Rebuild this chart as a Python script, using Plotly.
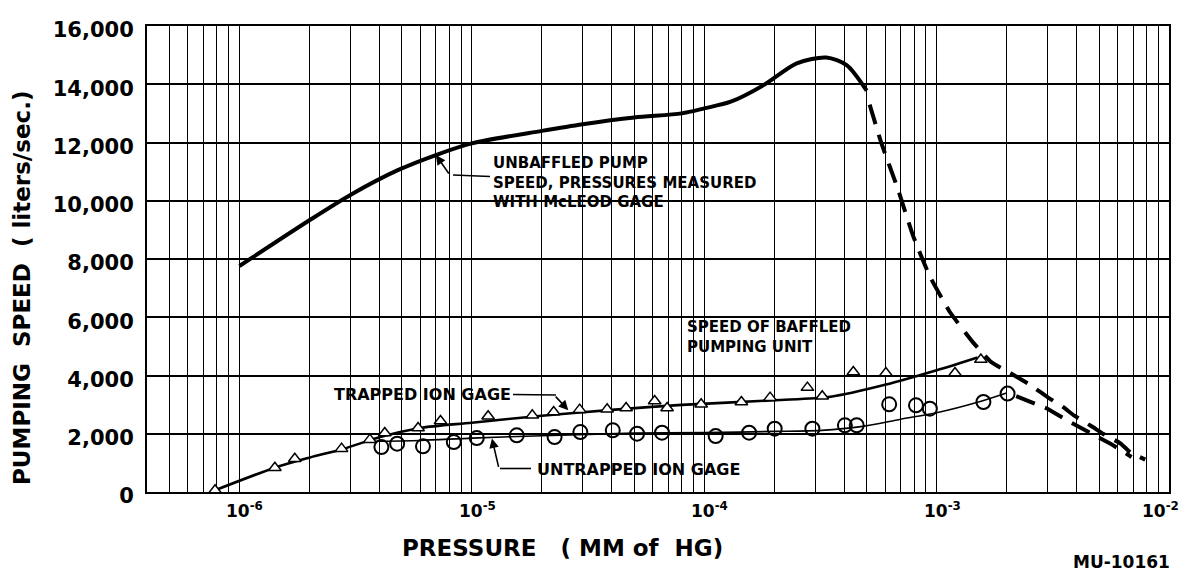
import math
import plotly.graph_objects as go

# ---------------- data ----------------
# Unbaffled pump speed, McLeod gage (solid part)
unbaffled_p = [1.0e-6, 2.0e-6, 3.0e-6, 4.8e-6, 7.0e-6, 1.0e-5, 2.0e-5, 3.0e-5, 5.0e-5,
               8.0e-5, 1.0e-4, 1.3e-4, 1.8e-4, 2.5e-4, 3.35e-4, 4.1e-4, 5.0e-4]
unbaffled_s = [7760, 9330, 10200, 11050, 11570, 11970, 12400, 12630, 12860,
               13000, 13170, 13400, 13970, 14720, 14920, 14660, 13780]

# Unbaffled pump speed, extrapolated (dashed, upper branch)
unbaffled_dash_p = [5.15e-4, 5.8e-4, 6.8e-4, 7.9e-4, 9.3e-4, 1.14e-3, 1.44e-3, 1.72e-3, 2.1e-3,
                    2.5e-3, 3.0e-3, 3.5e-3, 3.9e-3, 4.7e-3, 5.2e-3, 6.2e-3, 6.8e-3, 7.9e-3]
unbaffled_dash_s = [13300, 11950, 10420, 8820, 7440, 6180, 5120, 4460, 4060,
                    3700, 3260, 2920, 2630, 2230, 2000, 1660, 1370, 1110]

# Baffled unit, extrapolated (dashed, lower branch)
lower_dash_p = [2.2e-3, 2.7e-3, 3.0e-3, 3.75e-3, 4.1e-3, 5.2e-3, 5.6e-3, 6.9e-3]
lower_dash_s = [3290, 3010, 2860, 2400, 2230, 1775, 1660, 1200]

# Trapped ion gage: measured points and faired curve
trapped_p = [7.85e-7, 1.42e-6, 1.73e-6, 2.75e-6, 3.64e-6, 4.22e-6, 5.87e-6, 7.33e-6, 1.175e-5,
             1.82e-5, 2.25e-5, 2.91e-5, 3.82e-5, 4.61e-5, 6.12e-5, 6.92e-5, 9.7e-5, 1.445e-4,
             1.92e-4, 2.78e-4, 3.22e-4, 4.38e-4, 6.05e-4, 1.2e-3, 1.55e-3]
trapped_s = [60, 835, 1144, 1488, 1797, 2024, 2196, 2436, 2598,
             2632, 2746, 2828, 2838, 2883, 3124, 2883, 3010, 3089,
             3240, 3584, 3285, 4120, 4086, 4086, 4546]
trapped_curve_p = [7.85e-7, 1.42e-6, 2.0e-6, 2.8e-6, 4.0e-6, 6.0e-6, 1.0e-5, 2.0e-5, 4.0e-5,
                   8.0e-5, 2.0e-4, 3.5e-4, 6.0e-4, 1.0e-3, 1.5e-3]
trapped_curve_s = [60, 835, 1180, 1480, 1880, 2200, 2380, 2620, 2820,
                   2990, 3150, 3270, 3680, 4180, 4620]

# Untrapped ion gage: measured points and faired curve
untrapped_p = [4.08e-6, 4.77e-6, 6.16e-6, 8.36e-6, 1.05e-5, 1.56e-5, 2.27e-5, 2.93e-5, 4.04e-5,
               5.14e-5, 6.58e-5, 1.12e-4, 1.56e-4, 2.01e-4, 2.92e-4, 4.03e-4, 4.53e-4, 6.25e-4,
               8.15e-4, 9.35e-4, 1.59e-3, 2.02e-3]
untrapped_s = [1543, 1660, 1567, 1715, 1852, 1945, 1887, 2058, 2117,
               2003, 2038, 1921, 2038, 2175, 2175, 2289, 2289, 3010,
               2976, 2862, 3089, 3378]
untrapped_curve_p = [3.6e-6, 6e-6, 1e-5, 2e-5, 5e-5, 1e-4, 2e-4, 3.2e-4, 4.8e-4, 7e-4, 1e-3, 1.5e-3, 2.0e-3]
untrapped_curve_s = [1740, 1770, 1850, 1930, 2020, 2040, 2080, 2117, 2254, 2500, 2720, 3080, 3400]

# axis ticks
x_decades = [-7, -6, -5, -4, -3, -2]
x_labelled = [-6, -5, -4, -3, -2]
y_ticks = [0, 2000, 4000, 6000, 8000, 10000, 12000, 14000, 16000]
y_ticktext = ["0", "2,000", "4,000", "6,000", "8,000", "10,000", "12,000", "14,000", "16,000"]

# ---------------- figure ----------------
FONT = "DejaVu Sans"
INK = "black"

x_major, x_minor = [], []
for d in x_decades:
    for m in range(1, 10):
        v = m * 10.0 ** d
        if 3.9e-7 <= v <= 1.01e-2:
            (x_major if m == 1 else x_minor).append(v)

fig = go.Figure()

fig.add_trace(go.Scatter(x=unbaffled_p, y=unbaffled_s, mode="lines",
                         line=dict(color=INK, width=4, shape="spline", smoothing=0.8),
                         hoverinfo="skip", showlegend=False))
fig.add_trace(go.Scatter(x=unbaffled_dash_p, y=unbaffled_dash_s, mode="lines",
                         line=dict(color=INK, width=4, shape="spline", smoothing=0.4, dash="20px,11px"),
                         hoverinfo="skip", showlegend=False))
fig.add_trace(go.Scatter(x=lower_dash_p, y=lower_dash_s, mode="lines",
                         line=dict(color=INK, width=4, shape="linear", dash="20px,11px"),
                         hoverinfo="skip", showlegend=False))
fig.add_trace(go.Scatter(x=trapped_curve_p, y=trapped_curve_s, mode="lines",
                         line=dict(color=INK, width=2.6, shape="spline", smoothing=0.8),
                         hoverinfo="skip", showlegend=False))
fig.add_trace(go.Scatter(x=untrapped_curve_p, y=untrapped_curve_s, mode="lines",
                         line=dict(color=INK, width=1.6, shape="spline", smoothing=0.8),
                         hoverinfo="skip", showlegend=False))
fig.add_trace(go.Scatter(x=trapped_p, y=trapped_s, mode="markers",
                         marker=dict(symbol="triangle-up", size=11, color="white",
                                     line=dict(color=INK, width=1.5)),
                         showlegend=False, name="Trapped ion gage"))
fig.add_trace(go.Scatter(x=untrapped_p, y=untrapped_s, mode="markers",
                         marker=dict(symbol="circle-open", size=14, color=INK,
                                     line=dict(color=INK, width=2)),
                         showlegend=False, name="Untrapped ion gage"))

# The page body has an 8px margin, so the figure is drawn 8px in from the window edge.
OFF = 8
W, H = 1194 - 2 * OFF, 579 - 2 * OFF
L, T = 147 - OFF, 26 - OFF
R = W - (1169 - OFF)
B = H - (492 - OFF)
PW, PH = W - L - R, H - T - B


def px(sx):
    """window x pixel -> paper x"""
    return (sx - OFF - L) / PW


def py(sy):
    """window y pixel -> paper y"""
    return (H - B - (sy - OFF)) / PH


annotations = [
    dict(text="UNBAFFLED PUMP<br>SPEED, PRESSURES MEASURED<br>WITH McLEOD GAGE",
         x=px(491), y=py(152), xref="paper", yref="paper", xanchor="left", yanchor="top",
         align="left", showarrow=False, font=dict(family=FONT, size=15, color=INK, weight="bold")),
    dict(text="SPEED OF BAFFLED<br>PUMPING UNIT",
         x=px(685), y=py(316), xref="paper", yref="paper", xanchor="left", yanchor="top",
         align="left", showarrow=False, font=dict(family=FONT, size=15, color=INK, weight="bold")),
    dict(text="TRAPPED ION GAGE", x=px(332), y=py(394), xref="paper", yref="paper",
         xanchor="left", yanchor="middle", showarrow=False,
         font=dict(family=FONT, size=16, color=INK, weight="bold")),
    dict(text="UNTRAPPED ION GAGE", x=px(535), y=py(469), xref="paper", yref="paper",
         xanchor="left", yanchor="middle", showarrow=False,
         font=dict(family=FONT, size=16, color=INK, weight="bold")),
    # leader arrows
    dict(x=math.log10(7.0e-6), y=11570, xref="x", yref="y", ax=14, ay=20, text="",
         showarrow=True, arrowhead=2, arrowsize=1.2, arrowwidth=1.6, arrowcolor=INK),
    dict(x=math.log10(2.6e-5), y=2810, xref="x", yref="y", ax=-14, ay=-15, text="",
         showarrow=True, arrowhead=2, arrowsize=1.2, arrowwidth=1.6, arrowcolor=INK),
    dict(x=math.log10(1.22e-5), y=1840, xref="x", yref="y", ax=7, ay=30, text="",
         showarrow=True, arrowhead=2, arrowsize=1.2, arrowwidth=1.6, arrowcolor=INK),
    # axis titles and figure id
    dict(text="PUMPING  SPEED  ( liters/sec.)", x=px(22), y=py(288), xref="paper", yref="paper",
         xanchor="center", yanchor="middle", textangle=-90, showarrow=False,
         font=dict(family=FONT, size=23, color=INK, weight="bold")),
    dict(text="PRESSURE   ( MM of  HG)", x=px(562), y=py(548), xref="paper", yref="paper",
         xanchor="center", yanchor="middle", showarrow=False,
         font=dict(family=FONT, size=23, color=INK, weight="bold")),
    dict(text="MU-10161", x=px(1172), y=py(562), xref="paper", yref="paper",
         xanchor="right", yanchor="middle", showarrow=False,
         font=dict(family=FONT, size=17, color=INK, weight="bold")),
]

# decade labels on the pressure axis (hand-lettered, offset left of each grid line)
for d in x_labelled:
    annotations.append(dict(text=f"10<sup>{d}</sup>", x=d, y=0, xref="x", yref="paper",
                            xanchor="left", yanchor="top", showarrow=False,
                            xshift=-29 if d == -2 else -15, yshift=-5,
                            font=dict(family=FONT, size=17, color=INK, weight="bold")))

shapes = [
    dict(type="line", xref="paper", yref="paper", x0=px(453), y0=py(175), x1=px(490), y1=py(176.5),
         line=dict(color=INK, width=1.6)),
    dict(type="line", xref="paper", yref="paper", x0=px(513), y0=py(394.5), x1=px(556), y1=py(395),
         line=dict(color=INK, width=1.6)),
    dict(type="line", xref="paper", yref="paper", x0=px(500), y0=py(468.5), x1=px(531), y1=py(468.5),
         line=dict(color=INK, width=1.6)),
]

fig.update_layout(
    width=W, height=H,
    margin=dict(l=L, r=R, t=T, b=B, autoexpand=False),
    paper_bgcolor="white", plot_bgcolor="white",
    font=dict(family=FONT, color=INK),
    annotations=annotations,
    shapes=shapes,
    showlegend=False,
)
fig.update_xaxes(type="log", range=[math.log10(4e-7), -2], automargin=False,
                 tickmode="array", tickvals=x_major, showticklabels=False,
                 showgrid=True, gridcolor=INK, gridwidth=1.4,
                 minor=dict(tickmode="array", tickvals=x_minor, showgrid=True,
                            gridcolor=INK, gridwidth=1.3, ticks=""),
                 showline=True, linecolor=INK, linewidth=2, mirror=True,
                 ticks="", zeroline=False)
fig.update_yaxes(range=[0, 16000], automargin=False,
                 tickmode="array", tickvals=y_ticks, ticktext=y_ticktext,
                 tickfont=dict(family=FONT, size=21, color=INK, weight="bold"),
                 showgrid=True, gridcolor=INK, gridwidth=1.6,
                 showline=True, linecolor=INK, linewidth=2, mirror=True,
                 ticks="", zeroline=False, ticklabelstandoff=7, ticklabelshift=4)

fig.write_html("out.html")
